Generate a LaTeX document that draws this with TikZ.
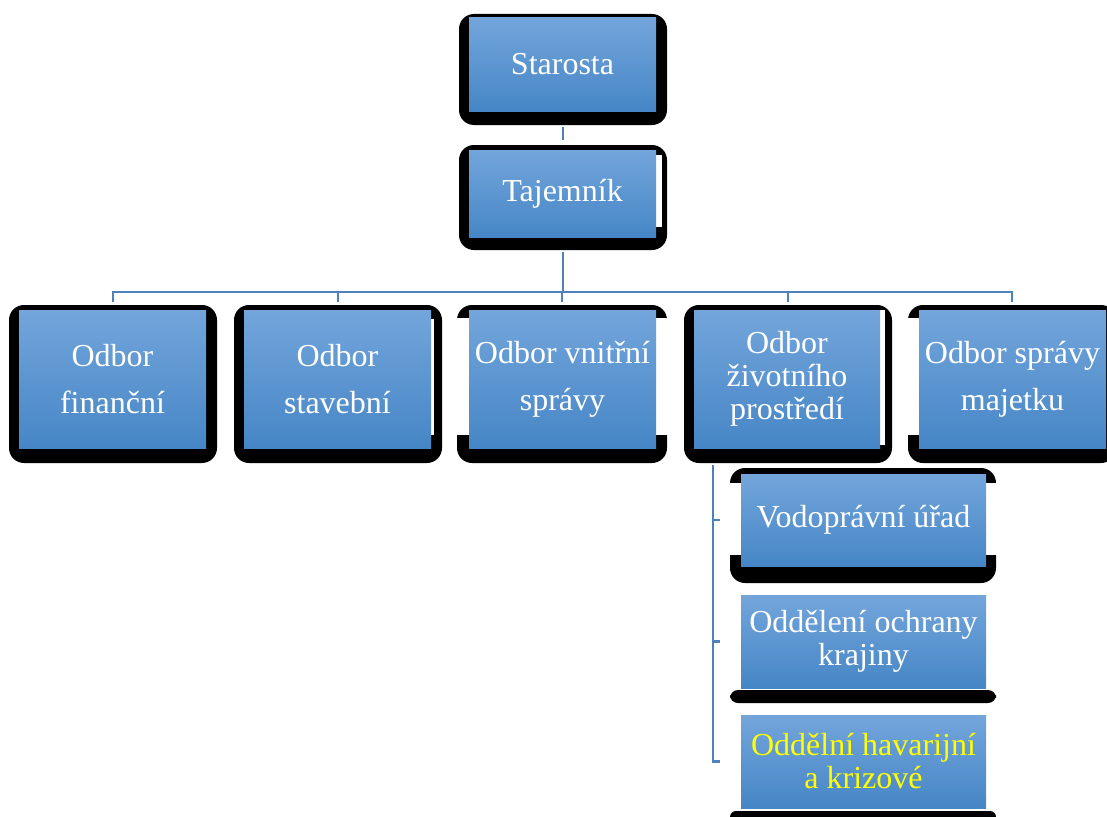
\documentclass[tikz,border=0pt]{standalone}
\usepackage{fontspec}
\setmainfont{Liberation Serif}
\definecolor{conn}{RGB}{79,129,189}
\definecolor{btop}{RGB}{115,165,219}
\definecolor{bmid}{RGB}{84,153,220}
\definecolor{bbot}{RGB}{70,134,198}
\begin{document}
\begin{tikzpicture}[x=1pt,y=-1pt,
  frame/.style={fill=black, rounded corners=15pt, inner sep=0pt, outer sep=0pt},
  bluebox/.style={top color=btop, middle color=bmid, bottom color=bbot, inner sep=0pt, outer sep=0pt,
     text=white, align=center, minimum width=187pt},
  loose/.style={font=\fontsize{32}{47}\selectfont},
  tight/.style={font=\fontsize{32}{33}\selectfont},
  connline/.style={draw=conn, line width=2.5pt},
  gap/.style={fill=white}]
\useasboundingbox (0,0) rectangle (1107,816);
\fill[white] (0,0) rectangle (1107,816);

% ---- Starosta and Tajemnik
\node[frame, minimum width=208pt, minimum height=111pt] (sF) at (563,69.5) {};
\node[bluebox, tight, minimum height=93pt] (s) at (562.5,64.5) {Starosta};
\node[frame, minimum width=208pt, minimum height=105pt] (tF) at (563,197.5) {};
\fill[white] (656,155) rectangle (662,227);
\node[bluebox, tight, minimum height=87pt] (t) at (562.5,193.5) {Tajemník};

% ---- department frames
\node[frame, minimum width=208pt, minimum height=158pt] (f1F) at (113,384) {};
\node[frame, minimum width=208pt, minimum height=158pt] (f2F) at (338,384) {};
\node[frame, minimum width=210pt, minimum height=158pt] (f3F) at (562,384) {};
\node[frame, minimum width=208pt, minimum height=158pt] (f4F) at (788,384) {};
\node[frame, minimum width=208pt, minimum height=158pt] (f5F) at (1012,384) {};
% gaps in frames
\fill[gap] (431,319) rectangle (434,435);
\fill[gap] (456,318) rectangle (469,435);
\fill[gap] (656,318) rectangle (668,435);
\fill[gap] (880,310) rectangle (885,445);
\fill[gap] (907,318) rectangle (919,435);

% ---- department boxes
\node[bluebox, loose, minimum height=138pt] (f1) at (112.5,379) {Odbor\\finanční};
\node[bluebox, loose, minimum height=138pt] (f2) at (337.5,379) {Odbor\\stavební};
\node[bluebox, loose, minimum height=138pt] (f3) at (562.5,379) {Odbor vnitřní\\správy};
\node[bluebox, tight, minimum height=138pt, minimum width=186pt] (f4) at (787,379) {Odbor\\životního\\prostředí};
\node[bluebox, loose, minimum height=138pt] (f5) at (1012.5,379) {Odbor správy\\majetku};

% ---- sub units
\node[frame, minimum width=266pt, minimum height=115pt] (vF) at (863,525.5) {};
\fill[gap] (729,483) rectangle (741,555);
\fill[gap] (986,483) rectangle (997,555);
\node[bluebox, tight, minimum width=245pt, minimum height=92pt] (v) at (863.5,520) {Vodoprávní úřad};

\fill[black, rounded corners=8pt] (730,690) rectangle (996,703);
\node[bluebox, tight, minimum width=245pt, minimum height=93pt] (o) at (863.5,641.5) {Oddělení ochrany\\krajiny};

\fill[black, rounded corners=6pt] (730,811) rectangle (996,830);
\node[bluebox, tight, minimum width=245pt, minimum height=93pt, text={rgb,255:red,255;green,255;blue,0}] (h) at (863.5,761.5) {Oddělní havarijní\\a krizové};

% ---- connectors
\coordinate (hub) at (563,292);
\draw[connline] ([yshift=-2pt]sF.south) -- ([yshift=5pt]tF.north);
\draw[connline] ([yshift=-2pt]tF.south) -- (hub);
\draw[connline] ([yshift=3pt]f1F.north) -- (f1F.north |- hub) -- (f5F.north |- hub) -- ([yshift=3pt]f5F.north);
\draw[connline] ([yshift=3pt]f2F.north) -- (f2F.north |- hub);
\draw[connline] ([yshift=3pt]f3F.north) -- (f3F.north |- hub);
\draw[connline] ([yshift=3pt]f4F.north) -- (f4F.north |- hub);

\coordinate (sb) at (713,465);
\draw[connline] (sb) -- (sb |- h.west) -- ([xshift=-21pt]h.west);
\draw[connline] (sb |- v.west) -- ([xshift=-21pt]v.west);
\draw[connline] (sb |- o.west) -- ([xshift=-21pt]o.west);
\end{tikzpicture}
\end{document}
